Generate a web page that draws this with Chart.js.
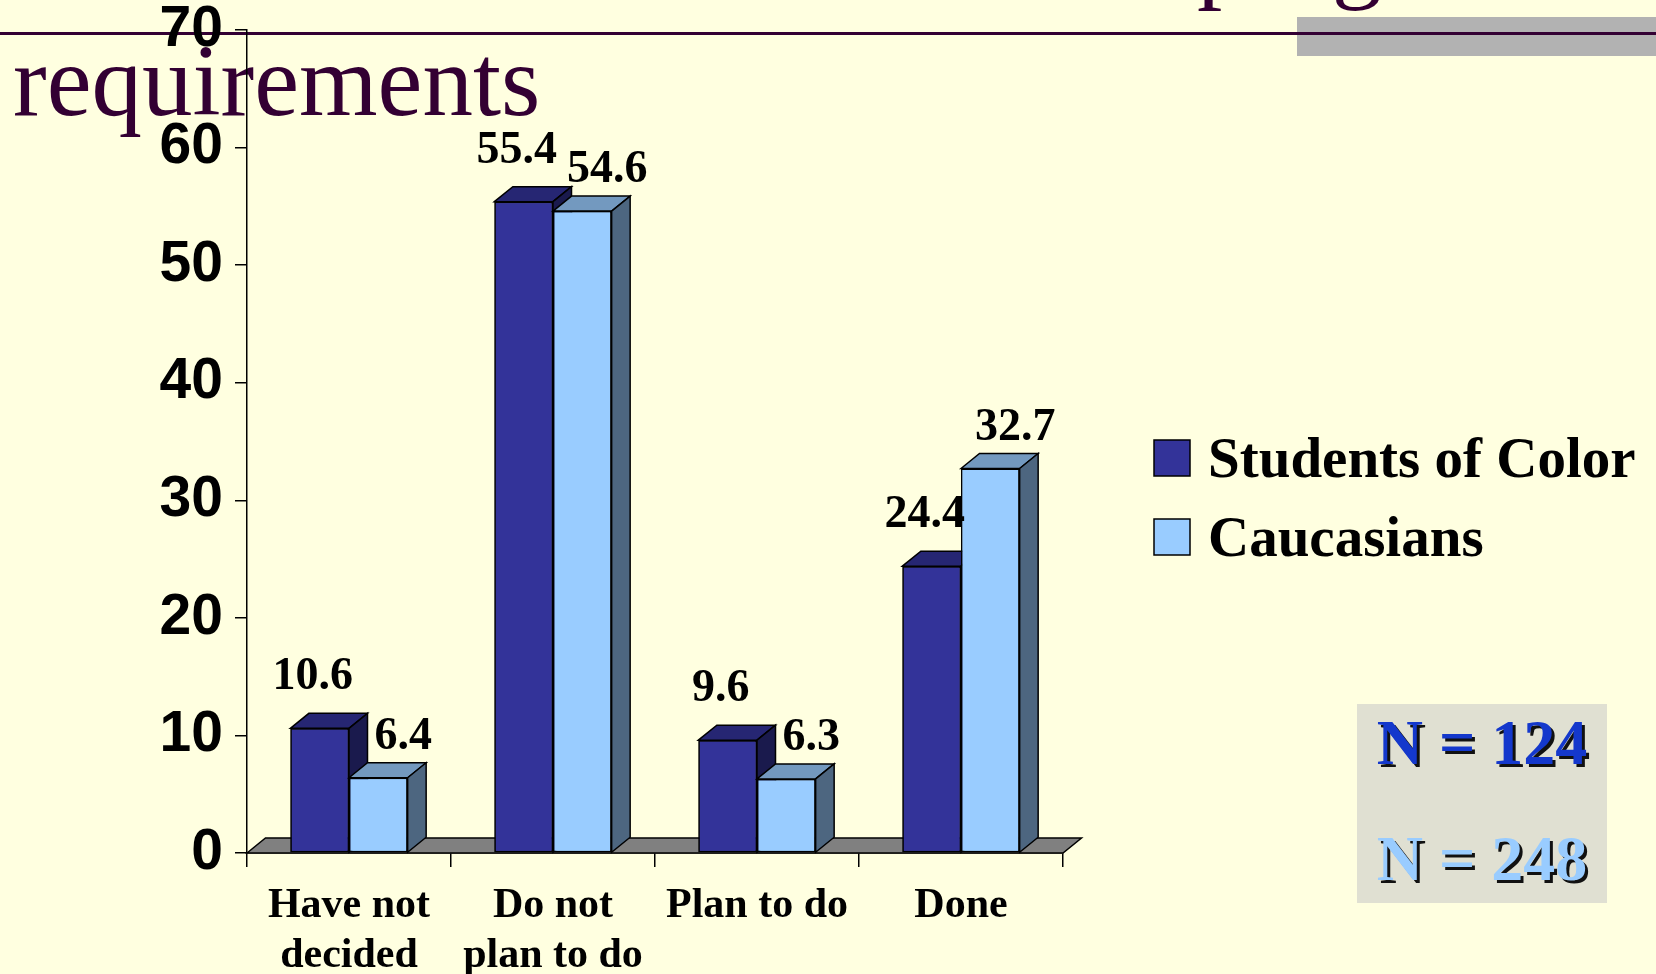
<!DOCTYPE html>
<html>
<head>
<meta charset="utf-8">
<script src="https://cdn.jsdelivr.net/npm/chart.js@4.4.0/dist/chart.umd.min.js"></script>
<style>
html,body{margin:0;padding:0;background:#FFFFE0;width:1656px;height:974px;overflow:hidden;}
#wrap{position:relative;width:1656px;height:974px;}
.title{position:absolute;font-family:"Liberation Serif","Times New Roman",serif;font-size:101px;line-height:100px;color:#330033;white-space:nowrap;}
#rule{position:absolute;left:0;top:32px;width:1656px;height:3px;background:#330033;z-index:2;}
#grayband{position:absolute;left:1297px;top:17px;width:359px;height:39px;background:#B2B2B2;z-index:1;}
#c{position:absolute;left:0;top:0;z-index:3;}
#nbox{position:absolute;left:1357px;top:704px;width:250px;height:199px;background:#E0E0D2;z-index:4;}
.n{position:absolute;left:0;width:250px;text-align:center;font-family:"Liberation Serif","Times New Roman",serif;font-weight:bold;font-size:64px;line-height:64px;text-shadow:3px 3px 0 #111;white-space:nowrap;}
</style>
</head>
<body>
<div id="wrap">
  <div class="title" style="left:1197px;top:-95px;">program</div>
  <div class="title" style="left:13px;top:31px;">requirements</div>
  <div id="grayband"></div>
  <div id="rule"></div>
  <canvas id="c" width="1656" height="974"></canvas>
  <div id="nbox">
    <div class="n" id="n1" style="top:7px;color:#1438CC;"></div>
    <div class="n" id="n2" style="top:123px;color:#99CCFF;"></div>
  </div>
</div>
<script>
// ---- data ----
const categories = [["Have not", "decided"], ["Do not", "plan to do"], "Plan to do", "Done"];
const seriesNames = ["Students of Color", "Caucasians"];
const studentsOfColor = [10.6, 55.4, 9.6, 24.4];
const caucasians = [6.4, 54.6, 6.3, 32.7];
const sampleSizes = [124, 248];
const yMin = 0, yMax = 70, yStep = 10;

// ---- styles ----
const frontColors = ["#333399", "#99CCFF"];
const topColors = ["#262673", "#7399BF"];
const sideColors = ["#1A1A4D", "#4D6680"];
const DX = 18.5, DY = -15;

document.getElementById('n1').textContent = 'N = ' + sampleSizes[0];
document.getElementById('n2').textContent = 'N = ' + sampleSizes[1];

function poly(ctx, pts, fill) {
  ctx.beginPath();
  ctx.moveTo(pts[0][0], pts[0][1]);
  for (let k = 1; k < pts.length; k++) ctx.lineTo(pts[k][0], pts[k][1]);
  ctx.closePath();
  ctx.fillStyle = fill;
  ctx.fill();
  ctx.lineWidth = 1.5;
  ctx.strokeStyle = '#000';
  ctx.lineJoin = 'miter';
  ctx.stroke();
}

const threeD = {
  id: 'threeD',
  beforeDatasetsDraw(chart) {
    const ctx = chart.ctx, a = chart.chartArea;
    const base = chart.scales.y.getPixelForValue(0);
    ctx.save();
    poly(ctx, [[a.left, base], [a.left + DX, base + DY], [a.right + DX, base + DY], [a.right, base]], '#808080');
    ctx.restore();
  },
  afterDatasetsDraw(chart) {
    const ctx = chart.ctx;
    const n = chart.data.labels.length;
    ctx.save();
    for (let i = 0; i < n; i++) {
      chart.data.datasets.forEach((ds, d) => {
        const el = chart.getDatasetMeta(d).data[i];
        el.draw(ctx);
        const p = el.getProps(['x', 'y', 'base', 'width'], true);
        const l = p.x - p.width / 2, r = p.x + p.width / 2, t = p.y, b = p.base;
        poly(ctx, [[l, t], [l + DX, t + DY], [r + DX, t + DY], [r, t]], topColors[d]);
        poly(ctx, [[r, t], [r + DX, t + DY], [r + DX, b + DY], [r, b]], sideColors[d]);
      });
    }
    // value labels
    ctx.font = 'bold 46px "Liberation Serif", "Times New Roman", serif';
    ctx.fillStyle = '#000';
    ctx.textAlign = 'center';
    ctx.textBaseline = 'alphabetic';
    chart.data.datasets.forEach((ds, d) => {
      chart.getDatasetMeta(d).data.forEach((el, i) => {
        const p = el.getProps(['x', 'y'], true);
        const xo = d === 0 ? -7 : 25;
        const yo = d === 0 ? 39 : 29;
        ctx.fillText(ds.data[i].toFixed(1), p.x + xo, p.y - yo);
      });
    });
    ctx.restore();
  },
  afterDraw(chart) {
    // legend
    const ctx = chart.ctx;
    ctx.save();
    const x0 = 1154, size = 36, tops = [440, 519];
    ctx.font = 'bold 57px "Liberation Serif", "Times New Roman", serif';
    ctx.textAlign = 'left';
    ctx.textBaseline = 'alphabetic';
    chart.data.datasets.forEach((ds, d) => {
      ctx.fillStyle = frontColors[d];
      ctx.fillRect(x0, tops[d], size, size);
      ctx.lineWidth = 1.5;
      ctx.strokeStyle = '#000';
      ctx.strokeRect(x0, tops[d], size, size);
      ctx.fillStyle = '#000';
      ctx.fillText(ds.label, x0 + size + 18, tops[d] + size + 1);
    });
    ctx.restore();
  }
};

new Chart(document.getElementById('c'), {
  type: 'bar',
  data: {
    labels: categories,
    datasets: [
      { label: seriesNames[0], data: studentsOfColor, backgroundColor: frontColors[0], borderColor: '#000', borderWidth: 1.5, borderSkipped: false },
      { label: seriesNames[1], data: caucasians, backgroundColor: frontColors[1], borderColor: '#000', borderWidth: 1.5, borderSkipped: false }
    ]
  },
  options: {
    responsive: false,
    devicePixelRatio: 1,
    animation: false,
    categoryPercentage: 0.575,
    barPercentage: 1.0,
    layout: { padding: { left: 0, right: 593, top: 30, bottom: 0 } },
    plugins: { legend: { display: false }, tooltip: { enabled: false } },
    scales: {
      x: {
        grid: { display: true, drawOnChartArea: false, drawTicks: true, tickLength: 14, color: '#000', lineWidth: 1.5, offset: true },
        border: { display: true, color: '#000', width: 1.5 },
        ticks: {
          color: '#000', padding: 14, maxRotation: 0, autoSkip: false,
          font: { family: '"Liberation Serif", "Times New Roman", serif', size: 42, weight: 'bold', lineHeight: 1.2 }
        },
        afterFit(s) { s.height = 121; s.paddingLeft = 0; s.paddingRight = 0; }
      },
      y: {
        min: yMin, max: yMax,
        grid: { display: true, drawOnChartArea: false, drawTicks: true, tickLength: 12, color: '#000', lineWidth: 1.5 },
        border: { display: true, color: '#000', width: 1.5 },
        ticks: {
          stepSize: yStep, color: '#000', padding: 12,
          font: { family: '"Liberation Sans", Arial, sans-serif', size: 57, weight: 'bold' }
        },
        afterFit(s) { s.width = 247; s.paddingTop = 0; s.paddingBottom = 0; }
      }
    }
  },
  plugins: [threeD]
});
</script>
</body>
</html>
